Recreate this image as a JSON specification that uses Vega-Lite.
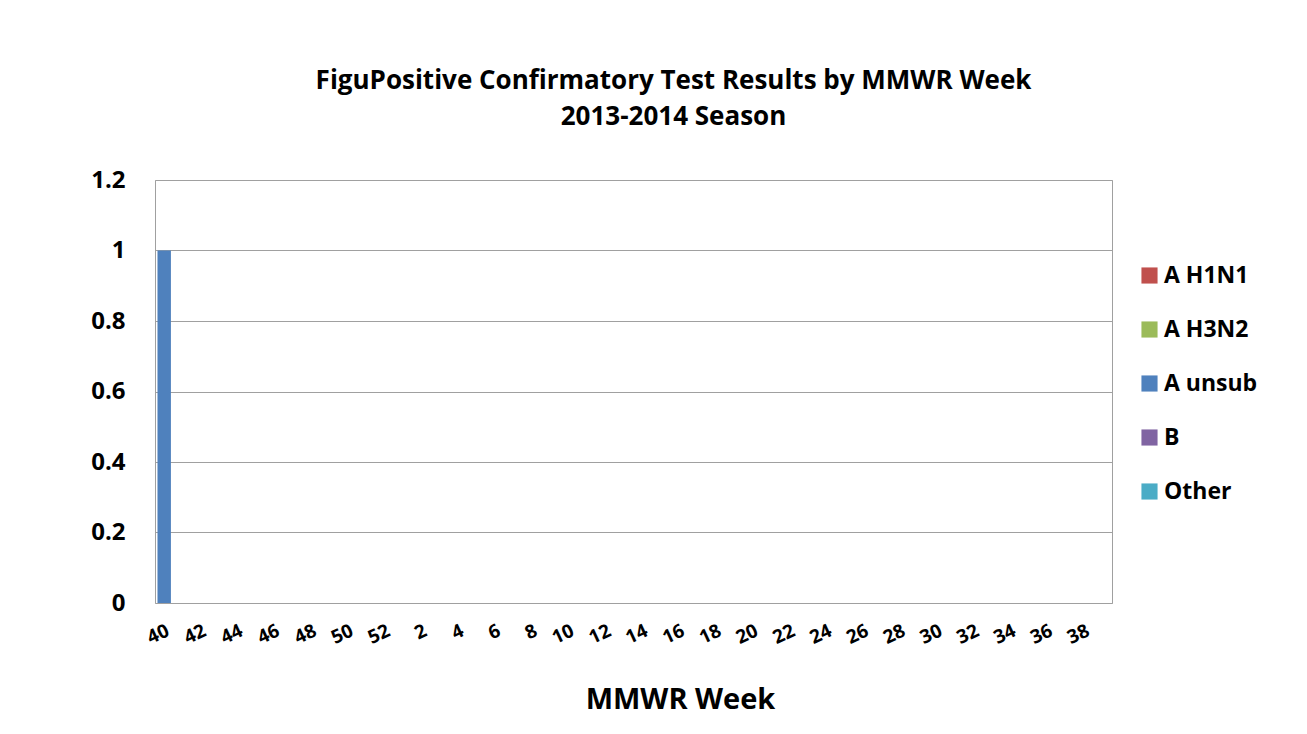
{
  "$schema": "https://vega.github.io/schema/vega-lite/v6.json",
  "width": 957,
  "height": 423,
  "autosize": {"type": "none"},
  "padding": {"left": 155, "top": 180, "right": 195, "bottom": 131},
  "background": "white",
  "title": {
    "text": ["FiguPositive Confirmatory Test Results by MMWR Week", "2013-2014 Season"],
    "anchor": "middle",
    "dx": 40,
    "offset": 38,
    "font": "Open Sans",
    "fontSize": 26,
    "fontWeight": "bold",
    "lineHeight": 36,
    "color": "#000000"
  },
  "data": {
    "values": [
      {"week": "40", "type": "A H1N1", "count": 0},
      {"week": "40", "type": "A H3N2", "count": 0},
      {"week": "40", "type": "A unsub", "count": 1},
      {"week": "40", "type": "B", "count": 0},
      {"week": "40", "type": "Other", "count": 0},
      {"week": "41", "type": "A unsub", "count": 0},
      {"week": "42", "type": "A unsub", "count": 0},
      {"week": "43", "type": "A unsub", "count": 0},
      {"week": "44", "type": "A unsub", "count": 0},
      {"week": "45", "type": "A unsub", "count": 0},
      {"week": "46", "type": "A unsub", "count": 0},
      {"week": "47", "type": "A unsub", "count": 0},
      {"week": "48", "type": "A unsub", "count": 0},
      {"week": "49", "type": "A unsub", "count": 0},
      {"week": "50", "type": "A unsub", "count": 0},
      {"week": "51", "type": "A unsub", "count": 0},
      {"week": "52", "type": "A unsub", "count": 0},
      {"week": "1", "type": "A unsub", "count": 0},
      {"week": "2", "type": "A unsub", "count": 0},
      {"week": "3", "type": "A unsub", "count": 0},
      {"week": "4", "type": "A unsub", "count": 0},
      {"week": "5", "type": "A unsub", "count": 0},
      {"week": "6", "type": "A unsub", "count": 0},
      {"week": "7", "type": "A unsub", "count": 0},
      {"week": "8", "type": "A unsub", "count": 0},
      {"week": "9", "type": "A unsub", "count": 0},
      {"week": "10", "type": "A unsub", "count": 0},
      {"week": "11", "type": "A unsub", "count": 0},
      {"week": "12", "type": "A unsub", "count": 0},
      {"week": "13", "type": "A unsub", "count": 0},
      {"week": "14", "type": "A unsub", "count": 0},
      {"week": "15", "type": "A unsub", "count": 0},
      {"week": "16", "type": "A unsub", "count": 0},
      {"week": "17", "type": "A unsub", "count": 0},
      {"week": "18", "type": "A unsub", "count": 0},
      {"week": "19", "type": "A unsub", "count": 0},
      {"week": "20", "type": "A unsub", "count": 0},
      {"week": "21", "type": "A unsub", "count": 0},
      {"week": "22", "type": "A unsub", "count": 0},
      {"week": "23", "type": "A unsub", "count": 0},
      {"week": "24", "type": "A unsub", "count": 0},
      {"week": "25", "type": "A unsub", "count": 0},
      {"week": "26", "type": "A unsub", "count": 0},
      {"week": "27", "type": "A unsub", "count": 0},
      {"week": "28", "type": "A unsub", "count": 0},
      {"week": "29", "type": "A unsub", "count": 0},
      {"week": "30", "type": "A unsub", "count": 0},
      {"week": "31", "type": "A unsub", "count": 0},
      {"week": "32", "type": "A unsub", "count": 0},
      {"week": "33", "type": "A unsub", "count": 0},
      {"week": "34", "type": "A unsub", "count": 0},
      {"week": "35", "type": "A unsub", "count": 0},
      {"week": "36", "type": "A unsub", "count": 0},
      {"week": "37", "type": "A unsub", "count": 0},
      {"week": "38", "type": "A unsub", "count": 0},
      {"week": "39", "type": "A unsub", "count": 0}
    ]
  },
  "mark": {"type": "bar"},
  "encoding": {
    "x": {
      "field": "week",
      "type": "ordinal",
      "sort": null,
      "scale": {
        "domain": ["40","41","42","43","44","45","46","47","48","49","50","51","52","1","2","3","4","5","6","7","8","9","10","11","12","13","14","15","16","17","18","19","20","21","22","23","24","25","26","27","28","29","30","31","32","33","34","35","36","37","38","39"],
        "paddingInner": 0.27,
        "paddingOuter": 0.135
      },
      "axis": {
        "title": "MMWR Week",
        "titleFont": "Open Sans",
        "titleFontSize": 29,
        "titleFontWeight": "bold",
        "titleColor": "#000000",
        "titleX": 525,
        "titlePadding": 38,
        "values": ["40","42","44","46","48","50","52","2","4","6","8","10","12","14","16","18","20","22","24","26","28","30","32","34","36","38"],
        "labelAngle": -25,
        "labelFont": "Open Sans",
        "labelFontSize": 19,
        "labelFontWeight": "bold",
        "labelColor": "#000000",
        "labelPadding": 18,
        "ticks": false,
        "domain": false,
        "grid": false
      }
    },
    "y": {
      "field": "count",
      "type": "quantitative",
      "aggregate": "sum",
      "stack": "zero",
      "scale": {"domain": [0, 1.2], "nice": false},
      "axis": {
        "title": null,
        "values": [0, 0.2, 0.4, 0.6, 0.8, 1, 1.2],
        "format": "~g",
        "labelFont": "Open Sans",
        "labelFontSize": 24,
        "labelFontWeight": "bold",
        "labelColor": "#000000",
        "labelPadding": 30,
        "ticks": false,
        "domain": false,
        "grid": true,
        "gridColor": "#A0A0A0",
        "gridWidth": 1
      }
    },
    "color": {
      "field": "type",
      "type": "nominal",
      "scale": {
        "domain": ["A H1N1", "A H3N2", "A unsub", "B", "Other"],
        "range": ["#C0504D", "#9BBB59", "#4F81BD", "#8064A2", "#4BACC6"]
      },
      "legend": {
        "title": null,
        "orient": "none",
        "legendX": 983,
        "legendY": 84,
        "symbolType": "square",
        "symbolSize": 260,
        "symbolStrokeWidth": 0,
        "labelFont": "Open Sans",
        "labelFontSize": 23,
        "labelFontWeight": "bold",
        "labelColor": "#000000",
        "labelOffset": 3,
        "rowPadding": 30,
        "padding": 0
      }
    }
  },
  "config": {
    "view": {"stroke": "#A0A0A0", "strokeWidth": 1}
  }
}
